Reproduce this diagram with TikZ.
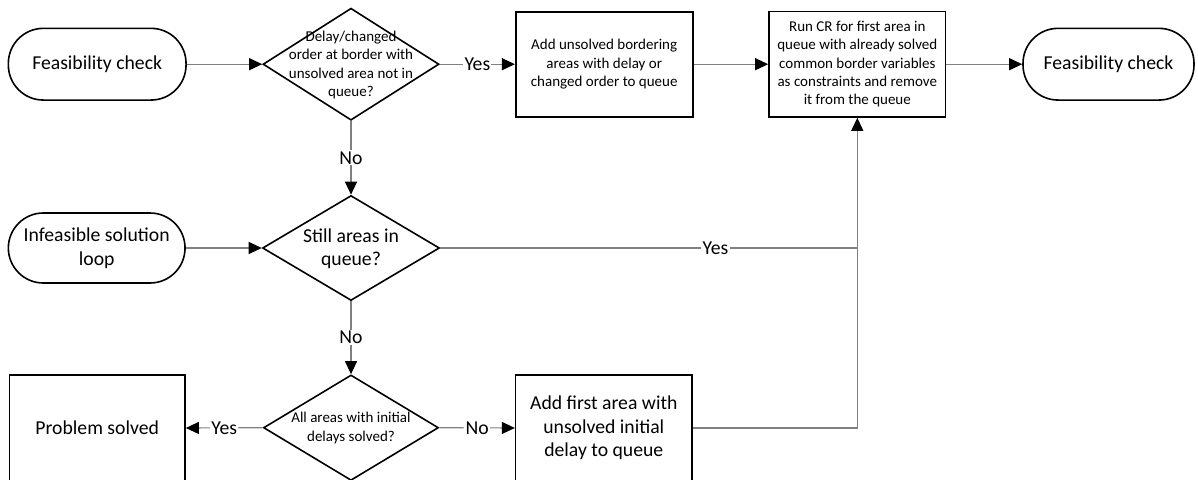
\documentclass[tikz,border=0pt]{standalone}
\usepackage{fontspec}
\setmainfont{Carlito}
\usetikzlibrary{shapes.geometric,arrows.meta}
\begin{document}
\begin{tikzpicture}[x=1pt,y=-1pt,
  bigtxt/.style={font=\fontsize{19.7}{23.5}\selectfont},
  smalltxt/.style={font=\fontsize{15}{18.2}\selectfont},
  outline/.style={draw=black,line width=1.6pt,fill=white,align=center,inner sep=0pt},
  terminal/.style={outline,rectangle,rounded corners=35pt},
  procbox/.style={outline,rectangle},
  decision/.style={outline,diamond},
  conn/.style={draw=black!50,line width=1.1pt,-{Triangle[length=13pt,width=12pt,color=black]}},
  plainconn/.style={draw=black!50,line width=1.1pt},
  lbl/.style={bigtxt,fill=white,inner sep=1.2pt,text=black}
]
\useasboundingbox (0,0) rectangle (1198,479);

% top row
\node[terminal,bigtxt,minimum width=177.7pt,minimum height=71.7pt] (t1) at (97.2,64.2) {Feasibility check};
\node[decision,minimum width=176pt,minimum height=112pt] (d1) at (351,64.2) {};
\node[smalltxt,align=center] (d1txt) at (351,65) {Delay/changed\\order at border with\\unsolved area not in\\queue?};
\node[procbox,smalltxt,minimum width=177pt,minimum height=105pt] (b1) at (604.2,64.2) {Add unsolved bordering\\areas with delay or\\changed order to queue};
\node[procbox,smalltxt,minimum width=176.7pt,minimum height=105.6pt] (b2) at (857.3,64.2) {Run CR for first area in\\queue with already solved\\common border variables\\as constraints and remove\\it from the queue};
\node[terminal,bigtxt,minimum width=171pt,minimum height=71.7pt] (t2) at (1108.5,64.2) {Feasibility check};

% middle row
\node[terminal,bigtxt,minimum width=176.7pt,minimum height=70pt] (t3) at (96.7,248) {Infeasible solution\\loop};
\node[decision,minimum width=177pt,minimum height=105pt] (d2) at (351,248) {};
\node[bigtxt,align=center] (d2txt) at (351,248.5) {Still areas in\\queue?};

% bottom row
\node[decision,minimum width=175pt,minimum height=105.5pt] (d3) at (351,427.7) {};
\node[smalltxt,align=center] (d3txt) at (351,428) {All areas with initial\\delays solved?};
\node[procbox,bigtxt,minimum width=175.7pt,minimum height=106pt] (ps) at (97.2,428) {Problem solved};
\node[procbox,bigtxt,minimum width=176.3pt,minimum height=106pt] (a4) at (603.8,428) {Add first area with\\unsolved initial\\delay to queue};

% connectors
\draw[conn] (t1.east) -- (d1.west);
\draw[conn] (d1.east) -- node[lbl]{Yes} (b1.west);
\draw[conn] (b1.east) -- (b2.west);
\draw[conn] (b2.east) -- (t2.west);
\draw[conn] (d1.south) -- node[lbl]{No} (d2.north);
\draw[conn] (t3.east) -- (d2.west);
\draw[conn] (d2.east) -| node[lbl,pos=0.33]{Yes} (b2.south);
\draw[conn] (d2.south) -- node[lbl]{No} (d3.north);
\draw[conn] (d3.west) -- node[lbl]{Yes} (ps.east);
\draw[conn] (d3.east) -- node[lbl]{No} (a4.west);
\coordinate (join) at (b2.south |- d2.east);
\draw[plainconn] (a4.east) -| (join);
\end{tikzpicture}
\end{document}
